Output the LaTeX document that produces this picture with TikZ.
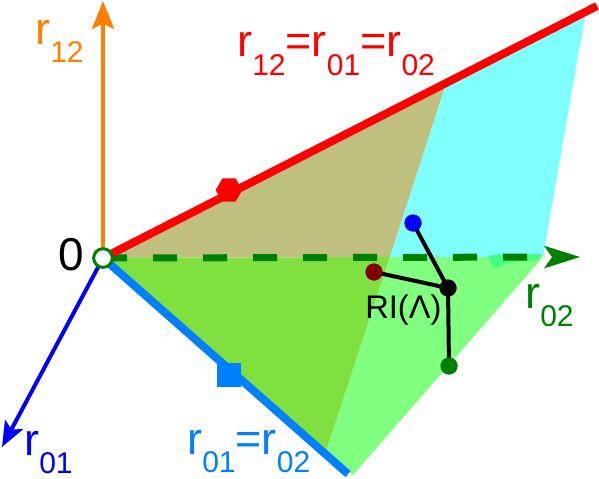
\documentclass[tikz,border=0pt]{standalone}
\usepackage{fontspec}
\setmainfont{Liberation Sans}
\usetikzlibrary{arrows.meta,shapes.geometric}
\definecolor{olivefill}{RGB}{191,191,128}
\definecolor{cyanfill}{RGB}{128,255,255}
\definecolor{dgreenfill}{RGB}{128,224,64}
\definecolor{lgreenfill}{RGB}{128,255,128}
\definecolor{springfill}{RGB}{64,255,128}
\definecolor{axred}{RGB}{255,0,0}
\definecolor{lineblue}{RGB}{0,128,255}
\definecolor{axblue}{RGB}{0,0,255}
\definecolor{axorange}{RGB}{255,128,0}
\definecolor{axgreen}{RGB}{0,128,0}
\definecolor{dotred}{RGB}{128,0,0}
\newcommand{\sbs}[1]{\raisebox{-13.5pt}{\fontsize{22.5}{22.5}\selectfont #1}}
\tikzset{
  lbl/.style={inner sep=0pt, anchor=base west, font=\fontsize{33.75}{33.75}\selectfont},
  axarrow/.style={line width=3pt, -{Stealth[length=21pt,width=16.5pt,inset=4pt]}},
  thickline/.style={line width=6pt},
  dotnode/.style={circle, inner sep=0pt, minimum size=12.75pt},
  conn/.style={line width=3pt, black},
}
\begin{document}
\begin{tikzpicture}[x=0.75pt,y=-0.75pt]
\useasboundingbox (0,0) rectangle (599,478);
% key points
\coordinate (O) at (103,258);
\coordinate (Rend) at (597,6);
\coordinate (Bend) at (348,474);
\coordinate (P1) at (445,87);
\coordinate (P2) at (390,257);
\coordinate (P3) at (326,452);
\coordinate (C1) at (585,16);
\coordinate (C2) at (543,257);
\coordinate (L1) at (353,475);
% regions
\fill[olivefill] (O) -- (P1) -- (P2) -- cycle;
\fill[cyanfill] (P1) -- (C1) -- (C2) -- (P2) -- cycle;
\fill[dgreenfill] (O) -- (P2) -- (P3) -- cycle;
\fill[lgreenfill] (P2) -- (C2) -- (L1) -- (P3) -- cycle;
\fill[springfill] (488,256) .. controls (505,253) and (522,255) .. (542,254)
  -- (538,260) .. controls (522,262) and (506,261) .. (496,268)
  .. controls (490,266) and (490,260) .. (488,256) -- cycle;
% axes
\coordinate (Gtip) at (580,257);
\coordinate (Otip) at (103,1);
\coordinate (Btip) at (2,447);
\draw[axgreen, line width=5.25pt, dash pattern=on 18pt off 19.5pt,
  -{Stealth[length=27pt,width=17pt,inset=6pt,line width=0pt,sep=0pt]}] (O) -- (Gtip);
\draw[axorange, axarrow] (O) -- (Otip);
\draw[axblue, axarrow, -{Stealth[length=19pt,width=15pt,inset=4pt]}] (O) -- (Btip);
% thick lines
\draw[axred, thickline] (O) -- (Rend);
\draw[lineblue, thickline] (O) -- (Bend);
% markers
\node[regular polygon, regular polygon sides=6, fill=axred, inner sep=0pt, minimum size=20pt] (hex) at (229,190) {};
\node[rectangle, fill=lineblue, inner sep=0pt, minimum size=18pt] (sq) at (229,375) {};
% RI connectors
\node[dotnode, fill=black] (pk) at (448,288) {};
\node[dotnode, fill=axblue] (pb) at (413,223) {};
\node[dotnode, fill=dotred] (pr) at (374,272) {};
\node[dotnode, fill=axgreen] (pg) at (449,366) {};
\draw[conn] (pk.center) -- (pb.center);
\draw[conn] (pk.center) -- (pr.center);
\draw[conn] (pk.center) -- (pg.center);
\node[dotnode, fill=black] at (pk) {};
\node[dotnode, fill=axblue] at (pb) {};
\node[dotnode, fill=dotred] at (pr) {};
\node[dotnode, fill=axgreen] at (pg) {};
% origin
\node[circle, draw=axgreen, fill=white, line width=2.25pt, inner sep=0pt, minimum size=14pt] (origin) at (O) {};
% labels
\node[lbl, text=axorange] (l12) at (35,45) {r\sbs{12}};
\node[lbl, text=axred] (lred) at (237,57) {r\sbs{12}=r\sbs{01}=r\sbs{02}};
\node[lbl, text=lineblue] (lblue) at (187,454) {r\sbs{01}=r\sbs{02}};
\node[lbl, text=axblue] (l01) at (24,455) {r\sbs{01}};
\node[lbl, text=axgreen] (l02) at (525,308) {r\sbs{02}};
\node[lbl, text=black, font=\fontsize{34.5}{34.5}\selectfont] (l0) at (58,270) {0};
\node[inner sep=0pt, anchor=base west, font=\fontsize{24.5}{24.5}\selectfont] (lri) at (365,318) {RI(Λ)};
\end{tikzpicture}
\end{document}
